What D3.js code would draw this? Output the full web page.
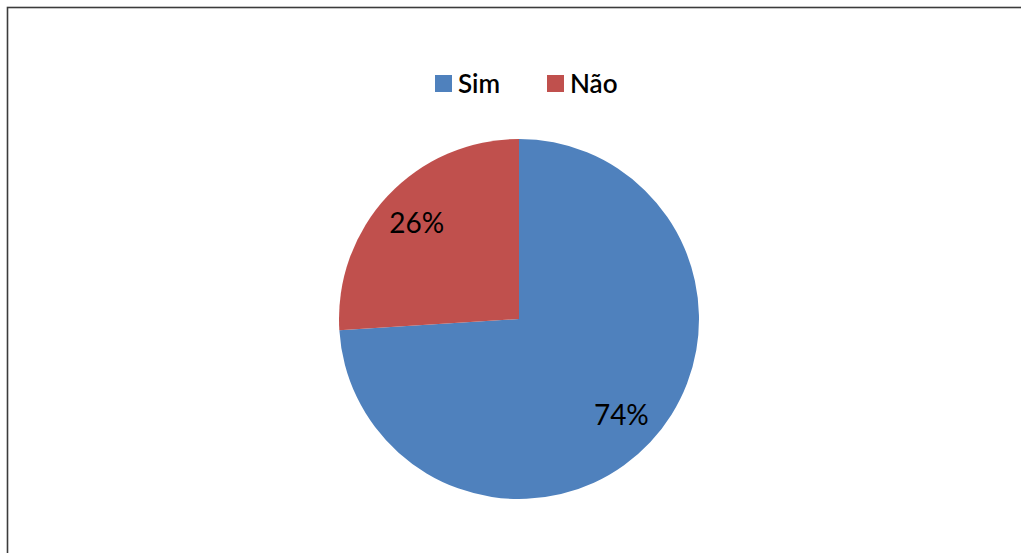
<!DOCTYPE html>
<html>
<head>
<meta charset="utf-8">
<script src="https://cdn.jsdelivr.net/npm/d3@7"></script>
<style>
  html, body { margin: 0; padding: 0; background: #fff; }
  svg { display: block; }
</style>
</head>
<body>
<svg id="chart" width="1021" height="553"></svg>
<script>
// Survey answers and their shares (%)
const categories = ["Sim", "Não"];
const values = [74, 26];
const colors = ["#4F81BD", "#C0504D"];

const svg = d3.select("#chart");
const W = 1021, H = 553;
const font = "Lato, 'Open Sans', sans-serif";

// Outer chart frame (only top and left edges fall inside the view)
svg.append("rect")
  .attr("x", 7.5).attr("y", 7.5)
  .attr("width", W + 20).attr("height", H + 20)
  .attr("fill", "#fff")
  .attr("stroke", "#3c3c3c")
  .attr("stroke-width", 1.6);

const cx = 519, cy = 319, radius = 180;

const color = d3.scaleOrdinal().domain(categories).range(colors);

const pie = d3.pie().sort(null).value(d => d.value);
const data = pie(categories.map((c, i) => ({ name: c, value: values[i] })));

const arc = d3.arc().innerRadius(0).outerRadius(radius);
const labelArc = d3.arc().innerRadius(radius * 0.78).outerRadius(radius * 0.78);

const g = svg.append("g").attr("transform", `translate(${cx},${cy})`);

g.selectAll("path.slice")
  .data(data)
  .join("path")
  .attr("class", "slice")
  .attr("d", arc)
  .attr("fill", d => color(d.data.name));

// Percentage labels at each slice's centroid
g.selectAll("text.pct")
  .data(data)
  .join("text")
  .attr("class", "pct")
  .attr("transform", d => {
    const [x, y] = labelArc.centroid(d);
    return `translate(${x},${y + 10})`;
  })
  .attr("text-anchor", "middle")
  .attr("font-family", font)
  .attr("font-size", 28)
  .attr("fill", "#000")
  .text(d => d.data.value + "%");

// Legend above the pie
const legendItems = [
  { name: categories[0], x: 435 },
  { name: categories[1], x: 547 }
];
const legend = svg.append("g").attr("transform", "translate(0,75)");
const items = legend.selectAll("g.item")
  .data(legendItems)
  .join("g")
  .attr("class", "item")
  .attr("transform", d => `translate(${d.x},0)`);

items.append("rect")
  .attr("x", 0).attr("y", 0)
  .attr("width", 17).attr("height", 17)
  .attr("fill", d => color(d.name));

items.append("text")
  .attr("x", 23).attr("y", 17.5)
  .attr("font-family", font)
  .attr("font-size", 26)
  .attr("font-weight", 600)
  .attr("fill", "#000")
  .text(d => d.name);
</script>
</body>
</html>
